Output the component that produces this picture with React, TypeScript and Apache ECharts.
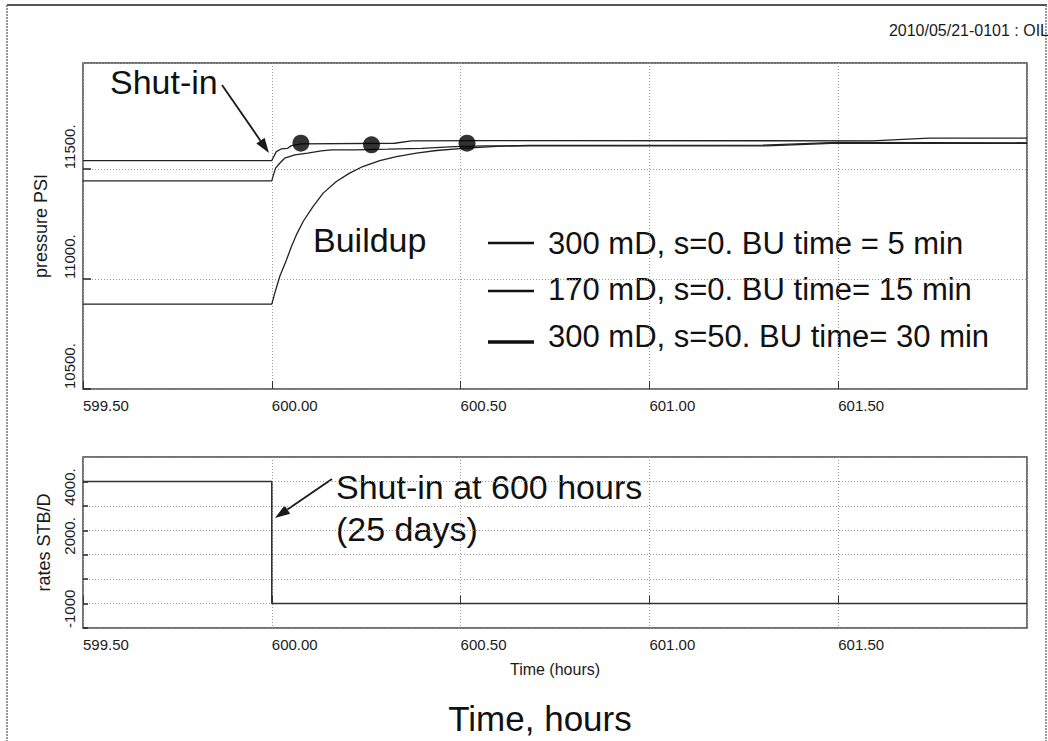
import React, { useEffect, useRef } from "react";
import * as echarts from "echarts";

// ---------- data ----------
const curveNames = [
  "300 mD, s=0. BU time = 5 min",
  "170 mD, s=0. BU time= 15 min",
  "300 mD, s=50. BU time= 30 min",
];

const timeA = [599.5, 600.0, 600.003, 600.012, 600.025, 600.042, 600.052, 600.078, 600.325, 600.37, 600.564, 601.59, 601.74, 602.0];
const pressA = [11539, 11539, 11550, 11580, 11592, 11595, 11607, 11615, 11618, 11629, 11630, 11629, 11641, 11641];

const timeB = [599.5, 600.0, 600.003, 600.01, 600.021, 600.034, 600.061, 600.095, 600.131, 600.158, 600.22, 600.307, 600.396, 600.484, 600.564, 601.31, 601.5, 602.0];
const pressB = [11447, 11447, 11466, 11505, 11527, 11550, 11565, 11573, 11583, 11588, 11588, 11591, 11595, 11603, 11606, 11606, 11619, 11617];

const timeC = [599.5, 600.0, 600.008, 600.021, 600.039, 600.052, 600.065, 600.083, 600.109, 600.136, 600.171, 600.206, 600.241, 600.286, 600.33, 600.383, 600.436, 600.506, 600.595, 600.683, 600.8, 601.3, 601.5, 602.0];
const pressC = [10886, 10886, 10936, 11012, 11088, 11148, 11201, 11262, 11330, 11391, 11444, 11482, 11512, 11539, 11557, 11573, 11585, 11595, 11604, 11608, 11608, 11609, 11622, 11620];

const dotTimes = [600.077, 600.264, 600.517];
const dotPress = [11618, 11611, 11618];

const rateTimes = [599.5, 600.0, 600.0, 602.0];
const rateValues = [5000, 5000, 0, 0];

const rateLabelValues = [4000, 2000, -1000];
const rateLabelTexts = ["4000.", "2000.", "-1000"];

// ---------- styling ----------
const FONT = '"Liberation Sans", Arial, Helvetica, sans-serif';
const INK = "#1a1a1a";
const GRIDC = "#9a9a9a";

const zip = (a: number[], b: number[]) => a.map((v, i) => [v, b[i]]);

function arrow(x1: number, y1: number, x2: number, y2: number) {
  const dx = x2 - x1, dy = y2 - y1;
  const len = Math.hypot(dx, dy);
  const ux = dx / len, uy = dy / len;
  const hl = 15, hw = 5;
  const bx = x2 - ux * hl, by = y2 - uy * hl;
  const nx = -uy, ny = ux;
  return [
    { type: "line", shape: { x1, y1, x2: bx, y2: by }, style: { stroke: INK, lineWidth: 1.8 } },
    {
      type: "polygon",
      shape: { points: [[x2, y2], [bx + nx * hw, by + ny * hw], [bx - nx * hw, by - ny * hw]] },
      style: { fill: INK },
    },
  ];
}

const legendLineY = [243, 291, 342];
const legendTextY = [243, 289, 336];
const legendLineW = [2.5, 2.5, 3.5];

function buildOption() {
  const xAxisBase = (i: number) => ({
    type: "value",
    gridIndex: i,
    min: 599.5,
    max: 602.0,
    interval: 0.5,
    axisLine: { show: false },
    axisTick: { show: true, inside: true, length: 8, lineStyle: { color: "#333", width: 1 } },
    axisLabel: {
      formatter: (v: number) => v.toFixed(2),
      align: "left",
      margin: 9,
      fontSize: 15,
      color: INK,
      fontFamily: FONT,
      showMaxLabel: false,
    },
    splitLine: { show: true, lineStyle: { color: GRIDC, type: [1, 2], width: 1 } },
  });

  const graphic: any[] = [
    { type: "line", shape: { x1: 7, y1: 5, x2: 1047, y2: 5 }, style: { stroke: "#555", lineWidth: 2 } },
    { type: "line", shape: { x1: 7, y1: 5, x2: 7, y2: 741 }, style: { stroke: "#777", lineWidth: 1.5, lineDash: [2, 1] } },
    { type: "line", shape: { x1: 1046, y1: 5, x2: 1046, y2: 741 }, style: { stroke: "#777", lineWidth: 1.5, lineDash: [2, 1] } },
    {
      type: "text", x: 1049, y: 30,
      style: { text: "2010/05/21-0101 : OIL", fontSize: 16, fontFamily: FONT, fill: INK, align: "right", verticalAlign: "middle" },
    },
    { type: "text", x: 110, y: 82, style: { text: "Shut-in", fontSize: 34, fontFamily: FONT, fill: "#111", align: "left", verticalAlign: "middle" } },
    { type: "text", x: 313, y: 240, style: { text: "Buildup", fontSize: 34, fontFamily: FONT, fill: "#111", align: "left", verticalAlign: "middle" } },
    { type: "text", x: 336, y: 487, style: { text: "Shut-in at 600 hours", fontSize: 34, fontFamily: FONT, fill: "#111", align: "left", verticalAlign: "middle" } },
    { type: "text", x: 336, y: 529, style: { text: "(25 days)", fontSize: 34, fontFamily: FONT, fill: "#111", align: "left", verticalAlign: "middle" } },
    { type: "text", x: 540, y: 718, style: { text: "Time, hours", fontSize: 35, fontFamily: FONT, fill: "#111", align: "center", verticalAlign: "middle" } },
    ...arrow(222, 85, 269, 153),
    ...arrow(332, 479, 275, 518),
  ];

  curveNames.forEach((name, i) => {
    graphic.push({
      type: "line",
      shape: { x1: 488, y1: legendLineY[i], x2: 534, y2: legendLineY[i] },
      style: { stroke: "#111", lineWidth: legendLineW[i] },
    });
    graphic.push({
      type: "text", x: 548, y: legendTextY[i],
      style: { text: name, fontSize: 31, fontFamily: FONT, fill: "#111", align: "left", verticalAlign: "middle" },
    });
  });

  const curveStyle = { color: "#222", width: 1.3 };

  return {
    animation: false,
    backgroundColor: "#ffffff",
    textStyle: { fontFamily: FONT },
    grid: [
      { left: 83, top: 63, width: 944, height: 326, show: true, borderColor: "#444", borderWidth: 1.5, backgroundColor: "transparent" },
      { left: 83, top: 457, width: 944, height: 171, show: true, borderColor: "#444", borderWidth: 1.5, backgroundColor: "transparent" },
    ],
    xAxis: [
      xAxisBase(0),
      {
        ...xAxisBase(1),
        name: "Time (hours)",
        nameLocation: "middle",
        nameGap: 33,
        nameTextStyle: { fontSize: 16, color: INK, fontFamily: FONT },
      },
    ],
    yAxis: [
      {
        type: "value",
        gridIndex: 0,
        min: 10500,
        max: 11983,
        interval: 500,
        name: "pressure PSI",
        nameLocation: "middle",
        nameRotate: 90,
        nameGap: 33,
        nameTextStyle: { fontSize: 18, color: INK, fontFamily: FONT },
        axisLine: { show: false },
        axisTick: { show: true, inside: true, length: 8, lineStyle: { color: "#222", width: 1.5 } },
        axisLabel: {
          rotate: 90,
          align: "left",
          verticalAlign: "bottom",
          margin: 6,
          fontSize: 15,
          color: INK,
          fontFamily: FONT,
          showMaxLabel: false,
          formatter: (v: number) => v + ".",
        },
        splitLine: { show: true, lineStyle: { color: GRIDC, type: [1, 2], width: 1 } },
      },
      {
        type: "value",
        gridIndex: 1,
        min: -1000,
        max: 6000,
        interval: 1000,
        name: "rates STB/D",
        nameLocation: "middle",
        nameRotate: 90,
        nameGap: 30,
        nameTextStyle: { fontSize: 18, color: INK, fontFamily: FONT },
        axisLine: { show: false },
        axisTick: { show: true, inside: true, length: 5, lineStyle: { color: "#222", width: 1.5 } },
        axisLabel: {
          rotate: 90,
          align: "left",
          verticalAlign: "bottom",
          margin: 6,
          fontSize: 15,
          color: INK,
          fontFamily: FONT,
          showMaxLabel: false,
          formatter: (v: number) => {
            const k = rateLabelValues.indexOf(v);
            return k >= 0 ? rateLabelTexts[k] : "";
          },
        },
        splitLine: { show: true, lineStyle: { color: GRIDC, type: [1, 2], width: 1 } },
      },
    ],
    series: [
      { name: curveNames[0], type: "line", xAxisIndex: 0, yAxisIndex: 0, data: zip(timeA, pressA), showSymbol: false, lineStyle: curveStyle, z: 3 },
      { name: curveNames[1], type: "line", xAxisIndex: 0, yAxisIndex: 0, data: zip(timeB, pressB), showSymbol: false, lineStyle: curveStyle, z: 3 },
      { name: curveNames[2], type: "line", xAxisIndex: 0, yAxisIndex: 0, data: zip(timeC, pressC), showSymbol: false, lineStyle: curveStyle, z: 3 },
      {
        name: "BU points", type: "scatter", xAxisIndex: 0, yAxisIndex: 0,
        data: zip(dotTimes, dotPress), symbol: "circle", symbolSize: 17,
        itemStyle: { color: "#000" }, z: 5,
      },
      {
        name: "rate", type: "line", xAxisIndex: 1, yAxisIndex: 1,
        data: zip(rateTimes, rateValues), showSymbol: false,
        lineStyle: { color: "#333", width: 1.6 }, z: 3,
      },
    ],
    graphic,
  };
}

export default function App() {
  const ref = useRef<HTMLDivElement>(null);
  useEffect(() => {
    document.body.style.margin = "0";
    const chart = echarts.init(ref.current as HTMLDivElement, null, { renderer: "svg" });
    chart.setOption(buildOption() as any);
    return () => chart.dispose();
  }, []);
  return <div ref={ref} style={{ width: 1048, height: 741, background: "#fff" }} />;
}
